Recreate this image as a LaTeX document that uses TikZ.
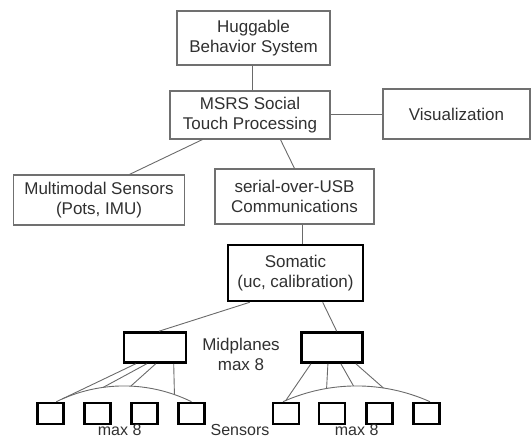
\documentclass[tikz,border=0pt]{standalone}
\usepackage{fontspec}
\setmainfont{Liberation Sans}
\usetikzlibrary{calc}
\definecolor{linegray}{HTML}{6A6A6A}
\definecolor{boxgray}{HTML}{707070}
\definecolor{textgray}{HTML}{303030}
\begin{document}
\begin{tikzpicture}[x=1pt,y=-1pt,
  lbl/.style={font=\fontsize{17}{20}\selectfont, text=textgray, align=center, inner sep=0pt},
  bottomlbl/.style={font=\fontsize{16}{18}\selectfont, text=textgray, inner sep=0pt, text depth=0pt, anchor=base},
  thinbox/.style={lbl, draw=boxgray, line width=1.1pt},
  thickbox/.style={lbl, draw=black, line width=2.6pt},
  conn/.style={draw=linegray, line width=0.9pt},
  sensorbox/.style={draw=black, line width=2.6pt, minimum width=26pt, minimum height=21pt, inner sep=0pt}]
\useasboundingbox (0,0) rectangle (531,439);

\node[thinbox, minimum width=153pt, minimum height=54pt] (hug) at (253.5,38) {Huggable\\Behavior System};
\node[thinbox, minimum width=160pt, minimum height=48pt] (msrs) at (250,115) {MSRS Social\\Touch Processing};
\node[thinbox, minimum width=147pt, minimum height=50pt] (vis) at (456.5,114) {Visualization};
\node[thinbox, minimum width=171pt, minimum height=50pt] (mm) at (99,200) {Multimodal Sensors\\(Pots, IMU)};
\node[thinbox, minimum width=159pt, minimum height=55pt] (ser) at (294.5,196.5) {serial-over-USB\\Communications};
\node[thickbox, minimum width=135pt, minimum height=56pt] (som) at (295.5,273) {Somatic\\(uc, calibration)};
\node[thickbox, minimum width=62pt, minimum height=30pt] (mpl) at (155,347.5) {};
\node[thickbox, minimum width=61pt, minimum height=30pt] (mpr) at (331.7,347.5) {};
\node[lbl] (mptext) at (241,354) {Midplanes\\max 8};

\node[sensorbox] (s1) at (50.3,413.5) {};
\node[sensorbox] (s2) at (97.5,413.5) {};
\node[sensorbox] (s3) at (144.7,413.5) {};
\node[sensorbox] (s4) at (191.5,413.5) {};
\node[sensorbox] (s5) at (286,413.5) {};
\node[sensorbox] (s6) at (332,413.5) {};
\node[sensorbox] (s7) at (379.5,413.5) {};
\node[sensorbox] (s8) at (426.5,413.5) {};

\node[bottomlbl] (maxl) at (119.7,435.5) {max 8};
\node[bottomlbl] (sens) at (240,435.5) {Sensors};
\node[bottomlbl] (maxr) at (356.7,435.5) {max 8};

% upper connectors
\draw[conn] ($(hug.south)+(-1.2,0)$) -- ($(msrs.north)+(2.3,0)$);
\draw[conn] (msrs.east |- 0,114.5) -- (vis.west |- 0,114.5);
\draw[conn] ($(msrs.south west)+(33,0)$) -- ($(mm.north west)+(116.5,0)$);
\draw[conn] ($(msrs.south west)+(111,0)$) -- (ser.north);
\draw[conn] ($(ser.south)+(7.5,0)$) -- ($(som.north)+(6.5,0)$);
\draw[conn] ($(som.south west)+(23,0)$) -- ($(mpl.north)+(4,0)$);
\draw[conn] ($(som.south west)+(96,0)$) -- ($(mpr.north)+(5,0)$);

% sensor buses
\draw[conn] ($(s1.north)+(6,0)$) .. controls +(43,-21) and +(-43,-21) .. (s4.north)
  node[coordinate,pos=0.045] (a1) {}
  node[coordinate,pos=0.35] (a2) {}
  node[coordinate,pos=0.55] (a3) {}
  node[coordinate,pos=0.87] (a4) {};
\draw[conn] ($(s5.north)+(-3,0)$) .. controls +(47,-21) and +(-47,-21) .. ($(s8.north)+(3.5,0)$)
  node[coordinate,pos=0.02] (b1) {}
  node[coordinate,pos=0.30] (b2) {}
  node[coordinate,pos=0.48] (b3) {}
  node[coordinate,pos=0.68] (b4) {};

\draw[conn] ($(mpl.south west)+(13,0)$) -- (a1);
\draw[conn] ($(mpl.south west)+(24,0)$) -- (a2);
\draw[conn] ($(mpl.south west)+(33,0)$) -- (a3);
\draw[conn] ($(mpl.south west)+(51,0)$) -- (a4);
\draw[conn] ($(mpr.south west)+(11,0)$) -- (b1);
\draw[conn] ($(mpr.south west)+(28,0)$) -- (b2);
\draw[conn] ($(mpr.south west)+(41,0)$) -- (b3);
\draw[conn] ($(mpr.south west)+(56,0)$) -- (b4);
\end{tikzpicture}
\end{document}
